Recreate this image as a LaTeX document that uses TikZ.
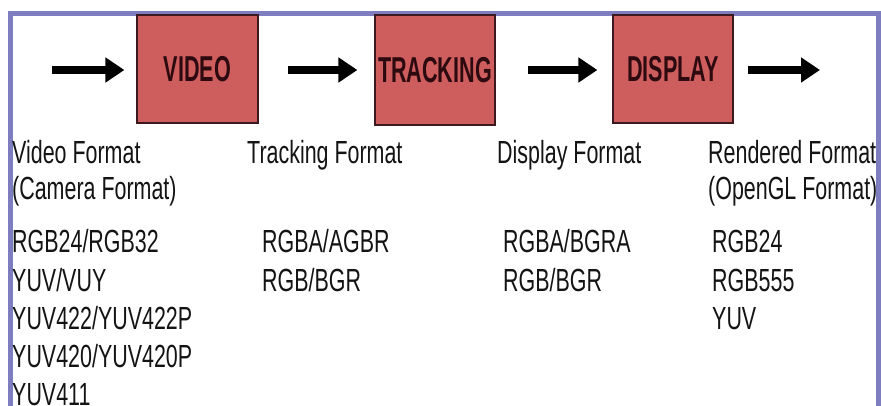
\documentclass[tikz,border=0pt]{standalone}
\usepackage{fontspec}
\setmainfont{Liberation Sans}
\newfontfamily\regfont[FakeStretch=0.67]{Liberation Sans}
\newfontfamily\labfont[FakeStretch=0.6]{Liberation Sans}
\usetikzlibrary{arrows.meta}
\definecolor{framecol}{RGB}{125,125,192}
\definecolor{boxfill}{RGB}{206,94,94}
\definecolor{boxline}{RGB}{60,25,30}
\definecolor{txt}{RGB}{20,20,20}
\definecolor{labtxt}{RGB}{45,10,15}
\begin{document}
\begin{tikzpicture}[x=1pt,y=-1pt,
  stagebox/.style={draw=boxline,line width=1.2pt,fill=boxfill,inner sep=0pt},
  stagelabel/.style={text=labtxt,font=\labfont\bfseries\fontsize{36}{36}\selectfont},
  flowarrow/.style={line width=7.5pt,-{Triangle[length=19pt,width=24pt]}},
  fmt/.style={anchor=base west,inner sep=0pt,text=txt,font=\regfont\fontsize{32}{32}\selectfont}]
\useasboundingbox (0,0) rectangle (881,406);
\clip (0,0) rectangle (881,406);
\fill[white] (0,0) rectangle (881,406);
% frame
\draw[framecol,line width=5pt] (10.5,440) -- (10.5,13.5) -- (878.5,13.5) -- (878.5,440);
% stage boxes
\node[stagebox,minimum width=121pt,minimum height=108pt] (video) at (197.5,69) {};
\node[stagebox,minimum width=120pt,minimum height=110pt] (tracking) at (435,70) {};
\node[stagebox,minimum width=120pt,minimum height=108pt] (display) at (673,69) {};
\node[stagelabel] at (video.center) {VIDEO};
\node[stagelabel] at (tracking.center) {TRACKING};
\node[stagelabel] at (display.center) {DISPLAY};
% arrows
\coordinate (in) at (52,70);
\coordinate (out) at (820,70);
\draw[flowarrow,shorten >=12pt] (in) -- (video.west |- in);
\draw[flowarrow,shorten <=29pt,shorten >=17pt] (video.east |- in) -- (tracking.west |- in);
\draw[flowarrow,shorten <=32pt,shorten >=15pt] (tracking.east |- in) -- (display.west |- in);
\draw[flowarrow,shorten <=14pt] (display.east |- in) -- (out);
% format texts
\node[fmt] (vf1) at (12,164) {Video Format};
\node[fmt] (vf2) at (12,200) {(Camera Format)};
\node[fmt] (v1) at (12,253) {RGB24/RGB32};
\node[fmt] (v2) at (12,291) {YUV/VUY};
\node[fmt] (v3) at (12,329) {YUV422/YUV422P};
\node[fmt] (v4) at (12,367) {YUV420/YUV420P};
\node[fmt] (v5) at (12,405) {YUV411};
\node[fmt] (tf1) at (247,164) {Tracking Format};
\node[fmt] (t1) at (262,253) {RGBA/AGBR};
\node[fmt] (t2) at (262,291) {RGB/BGR};
\node[fmt] (df1) at (497,164) {Display Format};
\node[fmt] (d1) at (503,253) {RGBA/BGRA};
\node[fmt] (d2) at (503,291) {RGB/BGR};
\node[fmt] (rf1) at (708,164) {Rendered Format};
\node[fmt] (rf2) at (708,200) {(OpenGL Format)};
\node[fmt] (r1) at (712,253) {RGB24};
\node[fmt] (r2) at (712,291) {RGB555};
\node[fmt] (r3) at (712,329) {YUV};
\end{tikzpicture}
\end{document}
